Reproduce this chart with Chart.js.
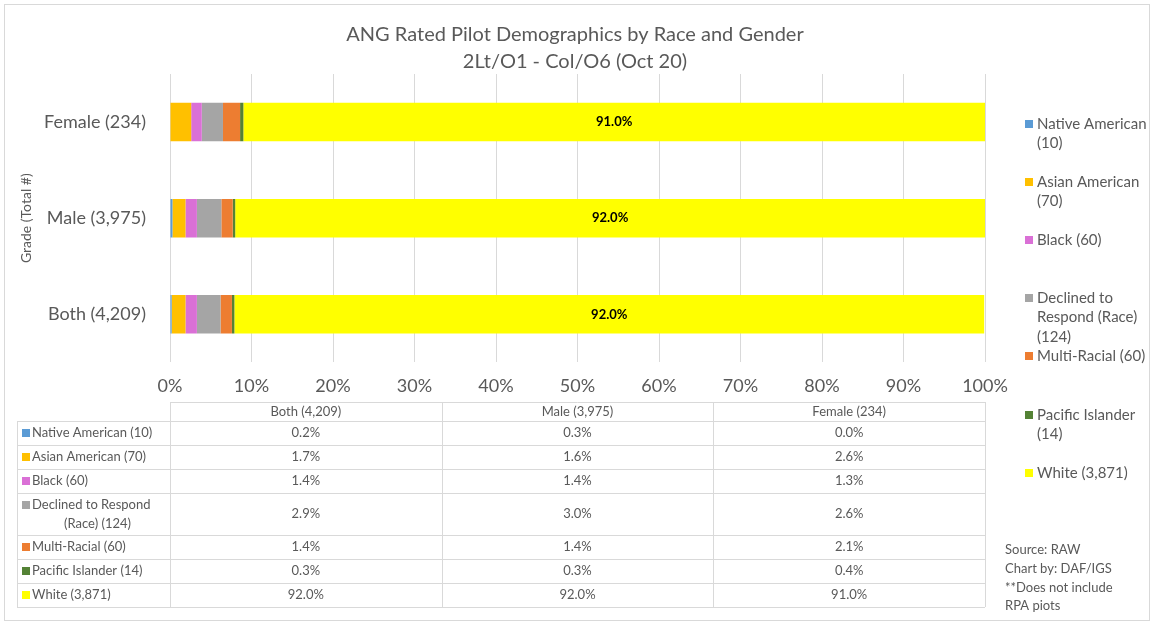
<!DOCTYPE html>
<html>
<head>
<meta charset="utf-8">
<script src="https://cdn.jsdelivr.net/npm/chart.js@4"></script>
<style>
  html, body { margin: 0; padding: 0; background: #fff; }
  #wrap { width: 1151px; height: 625px; position: relative; }
</style>
</head>
<body>
<div id="wrap"><canvas id="chart"></canvas></div>
<script>
// categories (top to bottom on the chart)
const groups = ['Female (234)', 'Male (3,975)', 'Both (4,209)'];
const raceNames = ['Native American (10)', 'Asian American (70)', 'Black (60)',
  'Declined to Respond (Race) (124)', 'Multi-Racial (60)', 'Pacific Islander (14)', 'White (3,871)'];
// percent of each group, order: Female, Male, Both
const nativeAmerican = [0.0, 0.3, 0.2];
const asianAmerican = [2.6, 1.6, 1.7];
const black = [1.3, 1.4, 1.4];
const declined = [2.6, 3.0, 2.9];
const multiRacial = [2.1, 1.4, 1.4];
const pacificIslander = [0.4, 0.3, 0.3];
const white = [91.0, 92.0, 92.0];
const series = [nativeAmerican, asianAmerican, black, declined, multiRacial, pacificIslander, white];
const colors = ['#5B9BD5', '#FFC000', '#DA70D6', '#A5A5A5', '#ED7D31', '#548235', '#FFFF00'];

const titleLines = ['ANG Rated Pilot Demographics by Race and Gender', '2Lt/O1 - Col/O6 (Oct 20)'];
// wrapped text for the side legend and the table row labels
const legendLines = [['Native American', '(10)'], ['Asian American', '(70)'], ['Black (60)'],
  ['Declined to', 'Respond (Race)', '(124)'], ['Multi-Racial (60)'], ['Pacific Islander', '(14)'], ['White (3,871)']];
const tableOrder = [2, 1, 0]; // Both, Male, Female
const notes = ['Source: RAW', 'Chart by: DAF/IGS', '**Does not include', 'RPA piots'];

const FONT = 'Lato, Carlito, "Open Sans", sans-serif';
Chart.defaults.font.family = FONT;
Chart.defaults.color = '#595959';

const extras = {
  id: 'extras',
  afterDatasetsDraw(chart) {
    const ctx = chart.ctx;
    const meta = chart.getDatasetMeta(6);
    ctx.save();
    ctx.font = 'bold 13px ' + FONT;
    ctx.fillStyle = '#000';
    ctx.textAlign = 'center';
    ctx.textBaseline = 'middle';
    meta.data.forEach((bar, i) => {
      const p = bar.getProps(['x', 'base', 'y'], true);
      ctx.fillText(white[i].toFixed(1) + '%', (p.x + p.base) / 2, p.y);
    });
    ctx.restore();
  },
  afterDraw(chart) {
    const ctx = chart.ctx;
    const xs = chart.scales.x;
    const colW = xs.width / 3;
    ctx.save();

    // outer frame
    ctx.strokeStyle = '#d9d9d9';
    ctx.lineWidth = 1;
    ctx.strokeRect(4.5, 4.5, 1145, 616);

    // title, centred on the whole chart
    ctx.font = '20px ' + FONT;
    ctx.fillStyle = '#595959';
    ctx.textAlign = 'center';
    ctx.textBaseline = 'middle';
    titleLines.forEach((t, k) => ctx.fillText(t, 575, 35 + k * 27));

    // data table
    const labelLeft = 17;
    const rowTops = [421, 445, 469, 493, 535, 559, 583, 607];
    const headTop = 402;
    ctx.beginPath();
    ctx.moveTo(xs.left, headTop + 0.5); ctx.lineTo(xs.right, headTop + 0.5);
    rowTops.forEach(y => { ctx.moveTo(labelLeft, y + 0.5); ctx.lineTo(xs.right, y + 0.5); });
    ctx.moveTo(labelLeft + 0.5, rowTops[0]); ctx.lineTo(labelLeft + 0.5, rowTops[7]);
    for (let c = 0; c <= 3; c++) {
      const x = Math.round(xs.left + c * colW) + 0.5;
      ctx.moveTo(x, headTop); ctx.lineTo(x, rowTops[7]);
    }
    ctx.stroke();

    ctx.font = '13px ' + FONT;
    ctx.fillStyle = '#595959';
    ctx.textAlign = 'center';
    tableOrder.forEach((g, c) => {
      ctx.fillText(groups[g], xs.left + (c + 0.5) * colW, (headTop + rowTops[0]) / 2);
    });
    series.forEach((vals, r) => {
      const yc = (rowTops[r] + rowTops[r + 1]) / 2;
      ctx.textAlign = 'center';
      ctx.fillStyle = '#595959';
      tableOrder.forEach((g, c) => {
        ctx.fillText(vals[g].toFixed(1) + '%', xs.left + (c + 0.5) * colW, yc);
      });
      ctx.fillStyle = colors[r];
      if (r === 3) {
        ctx.fillRect(22, yc - 13, 8, 8);
        ctx.fillStyle = '#595959';
        ctx.textAlign = 'left';
        ctx.fillText('Declined to Respond', 32, yc - 9);
        ctx.textAlign = 'center';
        ctx.fillText('(Race) (124)', (labelLeft + xs.left) / 2 + 4, yc + 10);
      } else {
        ctx.fillRect(22, yc - 4, 8, 8);
        ctx.fillStyle = '#595959';
        ctx.textAlign = 'left';
        ctx.fillText(raceNames[r], 32, yc);
      }
    });

    // side legend
    const legTops = [124, 182, 240, 298, 356, 415, 473];
    ctx.font = '15px ' + FONT;
    ctx.textAlign = 'left';
    legendLines.forEach((lines, i) => {
      ctx.fillStyle = colors[i];
      ctx.fillRect(1025, legTops[i] - 4, 8, 8);
      ctx.fillStyle = '#595959';
      lines.forEach((t, k) => ctx.fillText(t, 1037, legTops[i] + k * 19.5));
    });

    // notes
    ctx.font = '13px ' + FONT;
    notes.forEach((t, k) => ctx.fillText(t, 1005, 550 + k * 18.7));
    ctx.restore();
  }
};

new Chart(document.getElementById('chart'), {
  type: 'bar',
  data: {
    labels: groups,
    datasets: series.map((vals, i) => ({
      label: raceNames[i],
      data: vals,
      backgroundColor: colors[i],
      borderWidth: 0,
      barPercentage: 0.4,
      categoryPercentage: 1
    }))
  },
  options: {
    indexAxis: 'y',
    responsive: true,
    maintainAspectRatio: false,
    animation: false,
    layout: { padding: { left: 12, right: 166, top: 74, bottom: 215 } },
    scales: {
      x: {
        stacked: true,
        min: 0,
        max: 100,
        ticks: { stepSize: 10, callback: v => v + '%', font: { size: 18 }, color: '#595959', padding: 13 },
        grid: { color: '#d9d9d9', lineWidth: 1, drawTicks: false },
        border: { display: false }
      },
      y: {
        stacked: true,
        afterFit: s => { s.width = 158; },
        ticks: { font: { size: 18 }, color: '#595959', padding: 16 },
        grid: { display: false },
        border: { display: false },
        title: { display: true, text: 'Grade (Total #)', font: { size: 14 }, color: '#595959', padding: { top: 6, bottom: 0 } }
      }
    },
    plugins: {
      legend: { display: false },
      tooltip: { enabled: false },
      title: { display: false }
    }
  },
  plugins: [extras]
});
</script>
</body>
</html>
